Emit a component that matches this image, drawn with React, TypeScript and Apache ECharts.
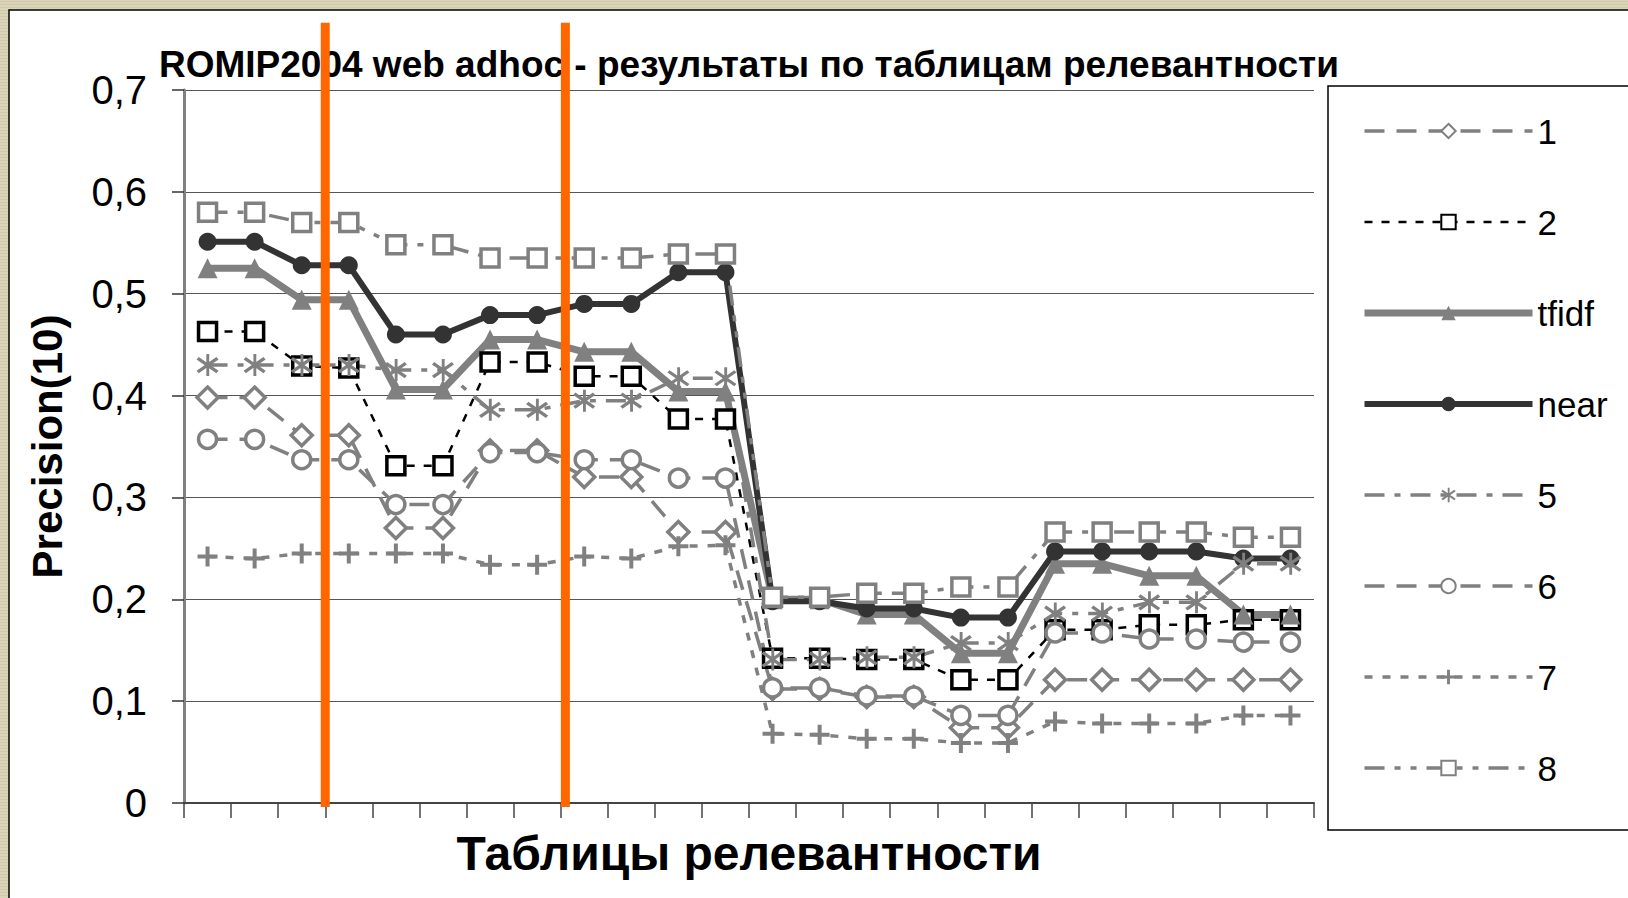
import React, { useEffect, useRef } from "react";
import * as echarts from "echarts";

const categories = ["1","2","3","4","5","6","7","8","9","10","11","12","13","14","15","16","17","18","19","20","21","22","23","24"];
const yTicks = [0, 0.1, 0.2, 0.3, 0.4, 0.5, 0.6, 0.7];
const seriesNames = ["1", "2", "tfidf", "near", "5", "6", "7", "8"];

const s1 = [0.398, 0.398, 0.361, 0.361, 0.270, 0.270, 0.346, 0.346, 0.320, 0.320, 0.266, 0.266, 0.112, 0.112, 0.104, 0.104, 0.074, 0.074, 0.121, 0.121, 0.121, 0.121, 0.121, 0.121];
const s2 = [0.463, 0.463, 0.429, 0.427, 0.331, 0.331, 0.433, 0.433, 0.419, 0.419, 0.377, 0.377, 0.142, 0.142, 0.141, 0.141, 0.121, 0.121, 0.170, 0.170, 0.175, 0.175, 0.180, 0.180];
const sTfidf = [0.525, 0.525, 0.494, 0.494, 0.406, 0.406, 0.455, 0.455, 0.443, 0.443, 0.404, 0.404, 0.200, 0.200, 0.185, 0.185, 0.147, 0.147, 0.235, 0.235, 0.223, 0.223, 0.185, 0.185];
const sNear = [0.551, 0.551, 0.528, 0.528, 0.460, 0.460, 0.479, 0.479, 0.490, 0.490, 0.521, 0.521, 0.198, 0.198, 0.191, 0.191, 0.182, 0.182, 0.247, 0.247, 0.247, 0.247, 0.240, 0.240];
const s5 = [0.430, 0.430, 0.430, 0.430, 0.425, 0.425, 0.386, 0.386, 0.395, 0.395, 0.417, 0.417, 0.141, 0.141, 0.143, 0.143, 0.157, 0.157, 0.186, 0.186, 0.197, 0.197, 0.235, 0.235];
const s6 = [0.357, 0.357, 0.337, 0.337, 0.293, 0.293, 0.344, 0.344, 0.337, 0.337, 0.319, 0.319, 0.113, 0.113, 0.105, 0.105, 0.086, 0.086, 0.167, 0.167, 0.161, 0.161, 0.158, 0.158];
const s7 = [0.242, 0.240, 0.245, 0.245, 0.245, 0.245, 0.234, 0.234, 0.242, 0.240, 0.252, 0.253, 0.068, 0.067, 0.063, 0.063, 0.059, 0.059, 0.080, 0.078, 0.078, 0.078, 0.086, 0.086];
const s8 = [0.580, 0.580, 0.570, 0.570, 0.548, 0.548, 0.535, 0.535, 0.535, 0.535, 0.539, 0.539, 0.202, 0.202, 0.206, 0.206, 0.212, 0.212, 0.266, 0.266, 0.266, 0.266, 0.261, 0.261];

// orange separator lines, in category units (boundary positions)
const orangeMarks = [3, 8.1];
const orangeRange = [-0.004, 0.766];

const FONT = "'Liberation Sans', Arial, sans-serif";
const GRAY = "#808080";

const PLUS = "path://M8,0h4v8h8v4h-8v8h-4v-8h-8v-4h8z";
const STAR =
  "path://M9,0h2.4v20h-2.4z" +
  "M2.66,2.62L19.16,15.12L17.34,17.38L0.84,4.88z" +
  "M0.84,15.12L17.34,2.62L19.16,4.88L2.66,17.38z";

export default function App() {
  const ref = useRef<HTMLDivElement>(null);

  useEffect(() => {
    if (!ref.current) return;
    const chart = echarts.init(ref.current, undefined, { renderer: "svg" });

    const mk = (
      name: string,
      data: number[],
      color: string,
      width: number,
      type: any,
      symbol: string,
      size: number,
      fill: string,
      border: number
    ) => ({
      name,
      type: "line",
      data,
      symbol,
      symbolSize: size,
      showAllSymbol: true,
      lineStyle: { color, width, type, cap: "butt" },
      itemStyle: { color: fill, borderColor: color, borderWidth: border },
      emphasis: { disabled: true },
      z: 3,
    });

    const option: any = {
      animation: false,
      textStyle: { fontFamily: FONT },
      title: {
        text: "ROMIP2004 web adhoc - результаты по таблицам релевантности",
        left: 154,
        top: 41,
        textStyle: { fontFamily: FONT, fontSize: 37, fontWeight: "bold", color: "#000" },
      },
      graphic: [
        {
          type: "rect",
          z: 0,
          shape: { x: 9, y: 10, width: 1660, height: 920 },
          style: { fill: "#fff", stroke: "#000", lineWidth: 1.5 },
        },
        {
          type: "rect",
          z: 0,
          shape: { x: 1328, y: 86, width: 400, height: 744 },
          style: { fill: "#fff", stroke: "#000", lineWidth: 1.5 },
        },
      ],
      legend: {
        orient: "vertical",
        left: 1356,
        top: 108,
        itemWidth: 168,
        itemHeight: 18,
        itemGap: 55,
        data: seriesNames,
        lineStyle: { width: "inherit" },
        textStyle: { fontFamily: FONT, fontSize: 35, lineHeight: 36, color: "#000" },
      },
      grid: {
        left: 184,
        right: 314,
        top: 90,
        bottom: 95,
        show: true,
        backgroundColor: "#fff",
        borderColor: GRAY,
        borderWidth: 3,
      },
      xAxis: [
        {
          type: "category",
          data: categories,
          boundaryGap: true,
          axisLine: { lineStyle: { color: "#444", width: 2 } },
          axisTick: { show: true, interval: 0, length: 15, lineStyle: { color: "#444", width: 1.5 } },
          axisLabel: { show: false },
          name: "Таблицы релевантности",
          nameLocation: "middle",
          nameGap: 26,
          nameTextStyle: { fontFamily: FONT, fontSize: 48, fontWeight: "bold", color: "#000" },
        },
        { type: "value", min: 0, max: categories.length, show: false },
      ],
      yAxis: {
        type: "value",
        min: yTicks[0],
        max: yTicks[yTicks.length - 1],
        interval: 0.1,
        axisLine: { show: true, lineStyle: { color: GRAY, width: 3 } },
        axisTick: { show: true, length: 12, lineStyle: { color: "#333", width: 1.5 } },
        splitLine: { show: true, lineStyle: { color: "#555", width: 1 } },
        axisLabel: {
          margin: 37,
          fontFamily: FONT,
          fontSize: 40,
          color: "#000",
          formatter: (v: number) => (v === 0 ? "0" : Number(v).toFixed(1).replace(".", ",")),
        },
        name: "Precision(10)",
        nameLocation: "middle",
        nameRotate: 90,
        nameGap: 116,
        nameTextStyle: { fontFamily: FONT, fontSize: 42, fontWeight: "bold", color: "#000" },
      },
      series: [
        mk("1", s1, GRAY, 3.5, [20, 12], "diamond", 21, "#fff", 3.5),
        mk("2", s2, "#000", 2.5, [8, 9], "rect", 18, "#fff", 3.5),
        mk("tfidf", sTfidf, GRAY, 7, "solid", "triangle", 20, GRAY, 0),
        mk("near", sNear, "#333", 6, "solid", "circle", 18, "#333", 0),
        mk("5", s5, GRAY, 3.5, [20, 10, 6, 10], STAR, 22, GRAY, 0),
        mk("6", s6, GRAY, 3.5, [20, 12], "circle", 18, "#fff", 3.5),
        mk("7", s7, GRAY, 3.5, [8, 10], PLUS, 20, GRAY, 0),
        mk("8", s8, GRAY, 3.5, [20, 10, 6, 10, 6, 10], "rect", 18, "#fff", 3.5),
        {
          type: "custom",
          xAxisIndex: 1,
          yAxisIndex: 0,
          silent: true,
          z: 20,
          clip: false,
          data: orangeMarks.map((x) => [x, 0]),
          renderItem: (_p: any, api: any) => {
            const x = api.value(0);
            const a = api.coord([x, orangeRange[1]]);
            const b = api.coord([x, orangeRange[0]]);
            return {
              type: "line",
              shape: { x1: a[0], y1: a[1], x2: b[0], y2: b[1] },
              style: { stroke: "#ff6600", lineWidth: 9 },
            };
          },
        },
      ],
    };

    chart.setOption(option);
    return () => chart.dispose();
  }, []);

  return (
    <div
      style={{
        position: "fixed",
        left: 0,
        top: 0,
        width: 1628,
        height: 898,
        background:
          "repeating-linear-gradient(0deg, #dad4b9 0px, #dad4b9 2px, #cfc8aa 2px, #cfc8aa 3px)",
      }}
    >
      <div ref={ref} style={{ width: 1628, height: 898 }} />
    </div>
  );
}
